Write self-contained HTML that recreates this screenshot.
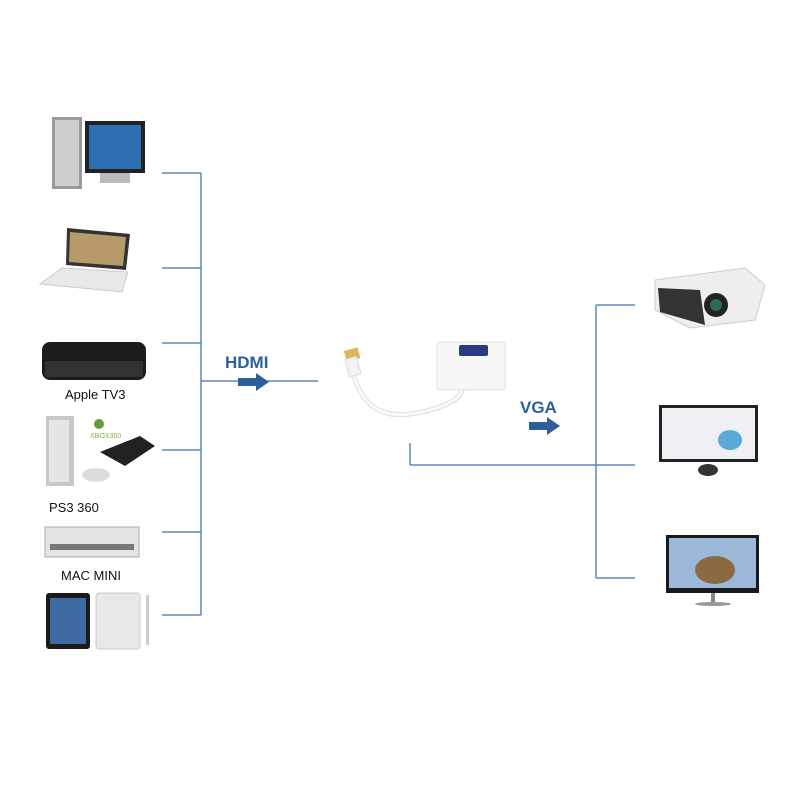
<!DOCTYPE html>
<html><head><meta charset="utf-8"><style>
html,body{margin:0;padding:0;background:#fff;}
svg{display:block;}
text{font-family:"Liberation Sans",sans-serif;}
</style></head><body>
<svg width="800" height="800" viewBox="0 0 800 800" xmlns="http://www.w3.org/2000/svg">
<rect width="800" height="800" fill="#fff"/>
<g stroke="#5a88b8" stroke-width="1.5" fill="none">
<line x1="201" y1="173" x2="201" y2="615"/>
<line x1="162" y1="173" x2="201" y2="173"/>
<line x1="162" y1="268" x2="201" y2="268"/>
<line x1="162" y1="343" x2="201" y2="343"/>
<line x1="162" y1="450" x2="201" y2="450"/>
<line x1="162" y1="532" x2="201" y2="532"/>
<line x1="162" y1="615" x2="201" y2="615"/>
<line x1="201" y1="381" x2="318" y2="381"/>
<line x1="410" y1="443" x2="410" y2="465"/>
<line x1="410" y1="465" x2="635" y2="465"/>
<line x1="596" y1="305" x2="596" y2="578"/>
<line x1="596" y1="305" x2="635" y2="305"/>
<line x1="596" y1="578" x2="635" y2="578"/>
</g>
<text x="225" y="368" font-size="17" font-weight="bold" fill="#2e5f9a">HDMI</text>
<path d="M238 378 h18 v-5 l13 9 l-13 9 v-5 h-18z" fill="#2e5f9a"/>
<text x="520" y="413" font-size="17" font-weight="bold" fill="#2e5f9a">VGA</text>
<path d="M529 422 h18 v-5 l13 9 l-13 9 v-5 h-18z" fill="#2e5f9a"/>
<!-- adapter -->
<path d="M352 368 C360 405 380 418 410 414 C440 410 460 400 462 390" stroke="#ddd" stroke-width="5" fill="none"/>
<path d="M352 368 C360 405 380 418 410 414 C440 410 460 400 462 390" stroke="#fafafa" stroke-width="3" fill="none"/>
<rect x="345" y="349" width="14" height="11" fill="#d9b85a" transform="rotate(-15 352 354)"/>
<rect x="347" y="358" width="12" height="18" fill="#f2f2f2" stroke="#ddd" transform="rotate(-15 352 367)"/>
<rect x="437" y="342" width="68" height="48" rx="3" fill="#f7f7f7" stroke="#e0e0e0"/>
<rect x="459" y="345" width="29" height="11" rx="2" fill="#2a3a80"/>
<!-- PC -->
<rect x="52" y="117" width="30" height="72" fill="#9a9a9a"/>
<rect x="55" y="120" width="24" height="66" fill="#cfcfcf"/>
<rect x="85" y="121" width="60" height="52" fill="#222"/>
<rect x="89" y="125" width="52" height="44" fill="#2c6fb3"/>
<rect x="100" y="173" width="30" height="10" fill="#bbb"/>
<!-- laptop -->
<path d="M67 228 L130 234 L126 270 L66 265 Z" fill="#333"/>
<path d="M70 232 L126 237 L123 266 L69 262 Z" fill="#b89a6a"/>
<path d="M62 268 L128 272 L122 292 L40 284 Z" fill="#e8e8e8" stroke="#ccc"/>
<!-- apple tv -->
<rect x="42" y="342" width="104" height="38" rx="8" fill="#1c1c1c"/>
<rect x="45" y="361" width="98" height="16" fill="#333"/>
<text x="65" y="399" font-size="13" fill="#111">Apple TV3</text>
<!-- consoles -->
<rect x="46" y="416" width="28" height="70" fill="#c8c8c8"/>
<rect x="49" y="420" width="20" height="62" fill="#e6e6e6"/>
<circle cx="99" cy="424" r="5" fill="#6a9a3a"/>
<text x="90" y="438" font-size="7" fill="#7fb040">XBOX360</text>
<path d="M100 452 L140 436 L155 446 L125 466 Z" fill="#222"/>
<ellipse cx="96" cy="475" rx="14" ry="7" fill="#ddd"/>
<text x="49" y="512" font-size="13" fill="#111">PS3  360</text>
<!-- mac mini -->
<rect x="45" y="527" width="94" height="30" fill="#e4e4e4" stroke="#aaa"/>
<rect x="50" y="544" width="84" height="6" fill="#777"/>
<text x="61" y="580" font-size="13" fill="#111">MAC MINI</text>
<!-- ipads -->
<rect x="46" y="593" width="44" height="56" rx="3" fill="#1a1a1a"/>
<rect x="50" y="598" width="36" height="46" fill="#3d6aa0"/>
<rect x="96" y="593" width="44" height="56" rx="3" fill="#e8e8e8" stroke="#ccc"/>
<rect x="146" y="595" width="3" height="50" fill="#ccc"/>
<!-- projector -->
<path d="M655 280 L745 268 L765 285 L755 320 L690 328 L655 310 Z" fill="#eee" stroke="#ccc"/>
<path d="M658 288 L700 290 L705 325 L660 312 Z" fill="#333"/>
<circle cx="716" cy="305" r="12" fill="#222"/>
<circle cx="716" cy="305" r="6" fill="#2a6a5a"/>
<!-- monitor 1 -->
<rect x="659" y="405" width="99" height="57" fill="#222"/>
<rect x="662" y="408" width="93" height="51" fill="#eef0f3"/>
<ellipse cx="730" cy="440" rx="12" ry="10" fill="#5aa9d6"/>
<ellipse cx="708" cy="470" rx="10" ry="6" fill="#333"/>
<!-- monitor 2 -->
<rect x="666" y="535" width="93" height="58" fill="#1a1a1a"/>
<rect x="669" y="538" width="87" height="50" fill="#9bb8d8"/>
<ellipse cx="715" cy="570" rx="20" ry="14" fill="#8a6a40"/>
<rect x="711" y="593" width="4" height="9" fill="#888"/>
<ellipse cx="713" cy="604" rx="18" ry="2" fill="#999"/>
</svg>
</body></html>
